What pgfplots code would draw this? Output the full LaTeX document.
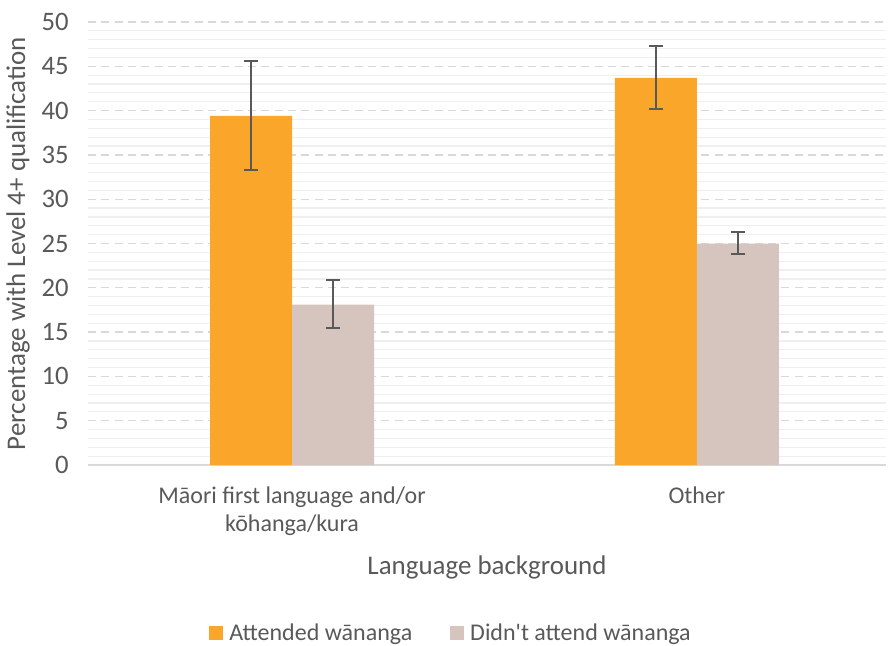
\documentclass[border=0pt]{standalone}
\usepackage{fontspec}
\setmainfont{Carlito}
\usepackage{pgfplots}
\pgfplotsset{compat=1.18}

\definecolor{attended}{HTML}{F9A62B}
\definecolor{notattended}{HTML}{D5C5BE}
\definecolor{txt}{HTML}{595959}
\definecolor{majgrid}{HTML}{D9D9D9}
\definecolor{mingrid}{HTML}{EFEFEF}

\pgfplotsset{
    errs/.style={
        error bars/.cd,
        y dir=both, y explicit,
        error bar style={color=txt, line width=1.3pt},
        error mark options={rotate=90, mark size=5pt, line width=1.3pt, color=txt},
    },
}

\begin{document}
\begin{tikzpicture}[font=\fontsize{18}{22}\selectfont]
\begin{axis}[
    at={(0,0)}, anchor=south west,
    scale only axis,
    width=598.5pt, height=332.25pt,
    ybar=0pt, bar width=61.5pt,
    xmin=-0.504, xmax=1.467,
    ymin=0, ymax=50,
    xtick={0,1},
    xticklabels={{Māori first language and/or\\kōhanga/kura}, Other},
    xticklabel style={align=center, text=txt, yshift=-13pt,
        font=\fontsize{18}{21}\selectfont},
    ytick={0,5,...,50},
    minor y tick num=4,
    yticklabel style={text=txt, xshift=-11pt, font=\fontsize{20}{24}\selectfont},
    /pgf/number format/assume math mode=true,
    major tick length=0pt, minor tick length=0pt,
    ymajorgrids, yminorgrids,
    major grid style={majgrid, line width=1pt, dash pattern=on 6pt off 4pt},
    minor grid style={mingrid, line width=0.9pt},
    axis x line*=bottom, axis y line*=left,
    x axis line style={majgrid, line width=1pt, -},
    y axis line style={draw=none},
    ylabel={Percentage with Level 4+ qualification},
    ylabel style={text=txt, font=\fontsize{20.2}{24}\selectfont, yshift=2pt},
    xlabel={Language background},
    xlabel style={text=txt, yshift=-8pt, font=\fontsize{20.2}{24}\selectfont},
    legend style={draw=none, fill=none, at={(0.455,-0.379)}, anchor=center,
        legend columns=2, text=txt, font=\fontsize{18}{21}\selectfont,
        /tikz/every odd column/.append style={column sep=3pt},
        /tikz/every even column/.append style={column sep=26pt}},
    legend image code/.code={\fill[#1] (0pt,-5.25pt) rectangle (10.5pt,5.25pt);},
]
\addplot[fill=attended, draw=none, errs] coordinates {
    (0,39.4) += (0,6.2) -= (0,6.1)
    (1,43.7) += (0,3.6) -= (0,3.5)
};
\addplot[fill=notattended, draw=none, errs] coordinates {
    (0,18.1) += (0,2.8) -= (0,2.6)
    (1,25.0) += (0,1.3) -= (0,1.2)
};
\legend{Attended wānanga, Didn\textquotesingle t attend wānanga}
\end{axis}
\pgfresetboundingbox
\path (-66pt,-135.75pt) rectangle (600.75pt,348.75pt);
\end{tikzpicture}
\end{document}
